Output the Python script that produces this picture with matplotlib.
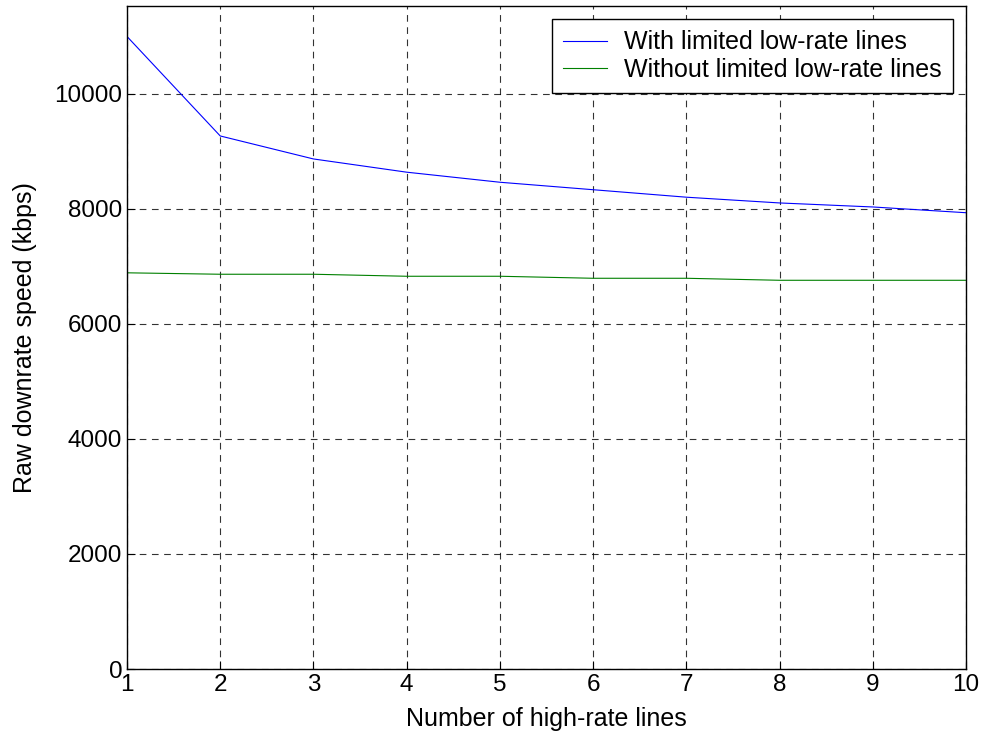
import matplotlib.pyplot as plt

# 数据：高速线路数量与原始下行速率
high_rate_lines = [1, 2, 3, 4, 5, 6, 7, 8, 9, 10]
with_limited = [11000, 9270, 8870, 8640, 8465, 8335, 8205, 8105, 8035, 7935]
without_limited = [6890, 6865, 6865, 6830, 6830, 6795, 6795, 6760, 6760, 6760]
y_ticks = [0, 2000, 4000, 6000, 8000, 10000]

plt.rcParams['font.family'] = ['Liberation Sans', 'DejaVu Sans']

fig = plt.figure(figsize=(9.84, 7.36), dpi=100)
ax = fig.add_axes([127 / 984, 1 - 669 / 736, 839 / 984, 663 / 736])

ax.plot(high_rate_lines, with_limited, color='#0000ff', lw=0.8,
        label='With limited low-rate lines')
ax.plot(high_rate_lines, without_limited, color='#008000', lw=0.8,
        label='Without limited low-rate lines')

ax.set_xlim(1, 10)
ax.set_ylim(0, 11530)
ax.set_xticks(high_rate_lines)
ax.set_yticks(y_ticks)
ax.tick_params(direction='in', labelsize=17.5, length=6, width=0.8)
ax.grid(True, color='black', linestyle=(0, (6, 5)), linewidth=0.8, alpha=0.8)
for s in ax.spines.values():
    s.set_linewidth(1.0)

ax.set_xlabel('Number of high-rate lines', fontsize=18, labelpad=8)
ax.set_ylabel('Raw downrate speed (kbps)', fontsize=18, labelpad=12)

leg = ax.legend(loc='upper right', fontsize=18, fancybox=False, framealpha=1,
                edgecolor='black', handlelength=1.76, handletextpad=0.68,
                borderaxespad=0.52, labelspacing=0.15, borderpad=0.45)
leg.get_frame().set_linewidth(1.0)

fig.savefig('out.png', dpi=100)
